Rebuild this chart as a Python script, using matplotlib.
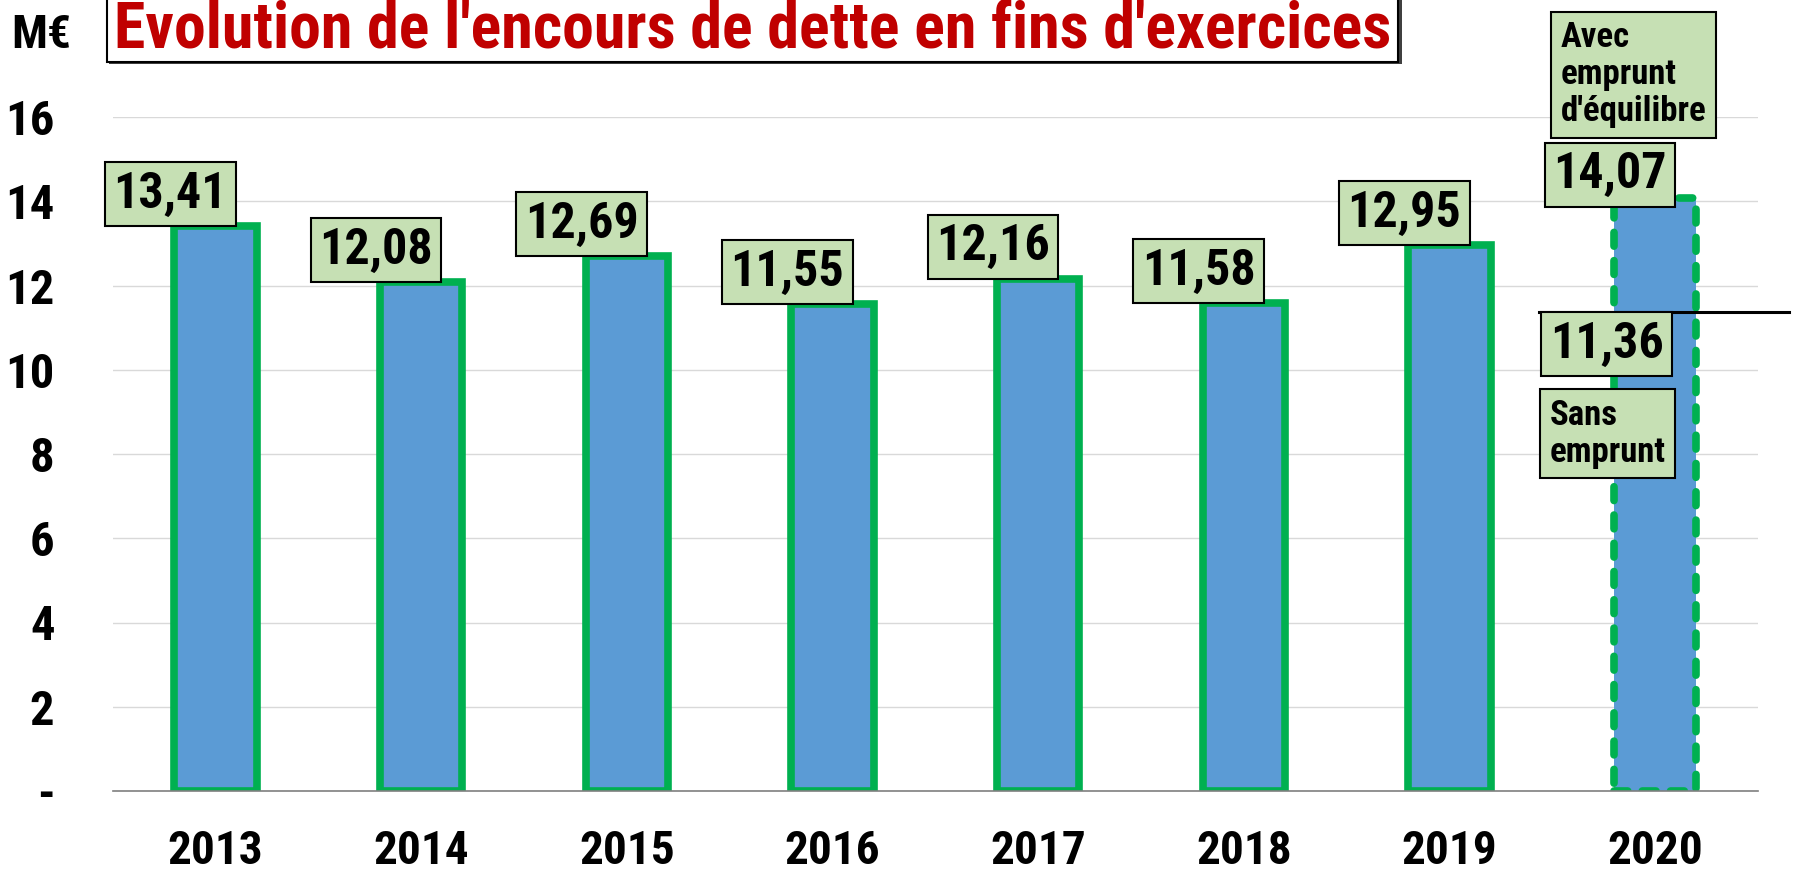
import matplotlib
matplotlib.use("Agg")
import matplotlib.pyplot as plt
from matplotlib.patches import Rectangle

# ---- data ----
years = ['2013', '2014', '2015', '2016', '2017', '2018', '2019', '2020']
values = [13.41, 12.08, 12.69, 11.55, 12.16, 11.58, 12.95, 14.07]
sans_emprunt_2020 = 11.36
yticks = [0, 2, 4, 6, 8, 10, 12, 14, 16]
ytick_labels = ['-', '2', '4', '6', '8', '10', '12', '14', '16']
title = "Evolution de l'encours de dette en fins d'exercices"
unit = "M€"
note_avec = "Avec\nemprunt\nd'équilibre"
note_sans = "Sans\nemprunt"

def fmt(v):
    return f"{v:.2f}".replace('.', ',')

FONT = ['Roboto Condensed', 'Archivo Narrow', 'DejaVu Sans']
BLUE = '#5B9BD5'
GREEN = '#00B050'
LABEL_BG = '#C6E0B4'
RED = '#C00000'

W, H = 1798, 874
fig = plt.figure(figsize=(W / 100, H / 100), dpi=100)
ax = fig.add_axes([112.8 / W, 1 - 791 / H, (1758 - 112.8) / W, (791 - 117) / H])

x = list(range(len(years)))
bars = ax.bar(x, values, width=0.4, color=BLUE, edgecolor=GREEN, linewidth=5.5, zorder=2)
last = bars[-1]
last.set_linestyle((0, (1.8, 1.9)))
last.set_capstyle('round')

ax.set_xlim(-0.5, len(years) - 0.5)
ax.set_ylim(0, 16)
ax.set_yticks(yticks)
ax.set_yticklabels(ytick_labels)
ax.set_xticks(x)
ax.set_xticklabels(years)
ax.tick_params(axis='y', length=0, pad=42)
ax.tick_params(axis='x', length=0, pad=27)
for t in ax.get_yticklabels():
    t.set_fontfamily(FONT); t.set_fontweight('bold'); t.set_fontsize(35)
for t in ax.get_xticklabels():
    t.set_fontfamily(FONT); t.set_fontweight('bold'); t.set_fontsize(34)

ax.grid(axis='y', color='#D9D9D9', linewidth=1.0, zorder=0)
ax.set_axisbelow(True)
for s in ['top', 'right', 'left']:
    ax.spines[s].set_visible(False)
ax.spines['bottom'].set_color('#7F7F7F')
ax.spines['bottom'].set_linewidth(1.2)
ax.spines['bottom'].set_zorder(3)

# value labels
VFS = 36
pad_pts = 0.17 * VFS
i20 = len(years) - 1
for xi, v in zip(x, values):
    dy = pad_pts - (6 if xi == i20 else 0)
    ax.annotate(fmt(v), xy=(xi - 0.22, v), xytext=(0, dy), textcoords='offset points',
                ha='center', va='bottom', fontsize=VFS, fontweight='bold', family=FONT,
                bbox=dict(boxstyle='square,pad=0.17', facecolor=LABEL_BG, edgecolor='black', linewidth=1.5),
                zorder=5, annotation_clip=False)

# 2020 without loan
ax.plot([i20 - 0.566, i20 + 0.65], [sans_emprunt_2020] * 2, color='black', linewidth=2.2,
        clip_on=False, zorder=4)
ax.annotate(fmt(sans_emprunt_2020), xy=(i20 - 0.236, sans_emprunt_2020), xytext=(0, -pad_pts),
            textcoords='offset points', ha='center', va='top', fontsize=VFS, fontweight='bold',
            family=FONT,
            bbox=dict(boxstyle='square,pad=0.17', facecolor=LABEL_BG, edgecolor='black', linewidth=1.5),
            zorder=5, annotation_clip=False)

ax.text(i20 - 0.513, 9.31, note_sans, ha='left', va='top', fontsize=25, fontweight='bold',
        family=FONT, linespacing=1.15, zorder=5,
        bbox=dict(boxstyle='square,pad=0.28', facecolor=LABEL_BG, edgecolor='black', linewidth=1.5))
ax.text(i20 - 0.46, 18.27, note_avec, ha='left', va='top', fontsize=25, fontweight='bold',
        family=FONT, linespacing=1.15, zorder=5, clip_on=False,
        bbox=dict(boxstyle='square,pad=0.28', facecolor=LABEL_BG, edgecolor='black', linewidth=1.5))

# title box with shadow
fig.patches.append(Rectangle((109 / W, 1 - 64 / H), (1400 - 107) / W, 80 / H,
                             transform=fig.transFigure, facecolor='#404040', edgecolor='none', zorder=0))
fig.patches.append(Rectangle((107 / W, 1 - 62 / H), (1398 - 107) / W, 80 / H,
                             transform=fig.transFigure, facecolor='white', edgecolor='black',
                             linewidth=1.5, zorder=1))
fig.text(753 / W, 1 - 48 / H, title, ha='center', va='baseline', fontsize=46, fontweight='bold',
         color=RED, family=FONT, zorder=2)
fig.text(41 / W, 1 - 48 / H, unit, ha='center', va='baseline', fontsize=34, fontweight='bold',
         family=FONT)

fig.savefig('out.png', dpi=100)
